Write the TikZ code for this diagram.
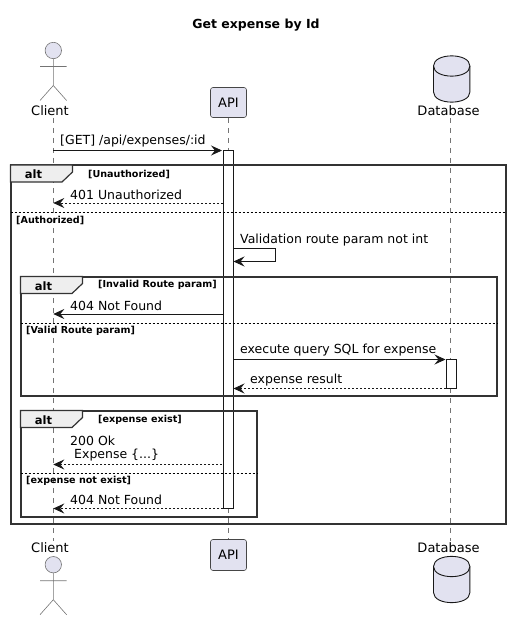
\documentclass[tikz,border=0pt]{standalone}
\usepackage{fontspec}
\setmainfont{DejaVu Sans}
\usepackage{xcolor}
\usetikzlibrary{arrows.meta}

\definecolor{partfill}{HTML}{E2E2F0}
\definecolor{partline}{HTML}{181818}
\definecolor{tabfill}{HTML}{EEEEEE}

\tikzset{
	partname/.style = {font = \fontsize{13}{15}\selectfont, inner sep = 0pt},
	partbox/.style = {draw = partline!80, fill = partfill, rounded corners = 2.5pt, line width = 0.6pt, minimum width = 36pt, inner sep = 0pt, font = \fontsize{13}{15}\selectfont},
	msg/.style = {font = \fontsize{12.5}{14}\selectfont, inner sep = 0pt, anchor = west, text = black},
	guard/.style = {font = \fontsize{9.6}{11}\bfseries\selectfont, inner sep = 0pt, anchor = west},
	alttag/.style = {font = \fontsize{11.5}{13}\bfseries\selectfont, inner sep = 0pt},
	lifeline/.style = {partline!60, line width = 0.6pt, dash pattern = on 5pt off 5pt},
	activation/.style = {draw = partline, fill = white, line width = 0.8pt, inner sep = 0pt, minimum width = 10pt},
	frameline/.style = {draw = black!80, line width = 2pt, inner sep = 0pt},
	divider/.style = {black, line width = 0.7pt, dash pattern = on 2pt off 2pt},
	call/.style = {partline, line width = 0.8pt, -{Stealth[length = 11pt, width = 10pt, inset = 4pt]}},
	reply/.style = {call, dash pattern = on 2pt off 2pt},
	actorfig/.pic = {
		\draw [partline!60, line width = 0.6pt, fill = partfill] (0,0) circle [radius = 8.2];
		\draw [partline!60, line width = 0.6pt] (0,8.2) -- (0,35) (-13.3,16) -- (13.3,16)
			(-13.3,50) -- (0,35) -- (13.3,50);
	},
	dbfig/.pic = {
		\draw [partline, line width = 0.9pt, fill = partfill] (-18.2,10) .. controls (-18.2,-3.5) and (18.2,-3.5) .. (18.2,10)
			-- (18.2,36) .. controls (18.2,49.5) and (-18.2,49.5) .. (-18.2,36) -- cycle;
		\draw [partline, line width = 0.9pt] (-18.2,10) .. controls (-18.2,23.5) and (18.2,23.5) .. (18.2,10);
	},
	alttab/.pic = {
		\draw [black!80, line width = 1.2pt, fill = tabfill] (0,0) -- (62,0) -- (62,7) -- (51.5,17) -- (0,17) -- cycle;
		\node [alttag] at (23,9.5) {alt};
	},
}

\begin{document}
\begin{tikzpicture}[x = 1pt, y = -1pt]
	\useasboundingbox (0,0) rectangle (511,620);

	\node [font = \fontsize{12.5}{14}\bfseries\selectfont, inner sep = 0pt] (title) at (256,25) {Get expense by Id};

	% lifelines
	\coordinate (clientTop) at (53.3,118);
	\coordinate (clientBot) at (53.3,541);
	\coordinate (apiTop) at (228,118);
	\coordinate (apiBot) at (228,540);
	\coordinate (dbTop) at (450.3,118);
	\coordinate (dbBot) at (450.3,541);

	\draw [lifeline] (clientTop) -- (clientBot);
	\draw [lifeline] (apiTop) -- (apiBot);
	\draw [lifeline] (dbTop) -- (dbBot);

	% participants, top and bottom
	\pic at (53.3,50.5) {actorfig};
	\pic at (53.3,564.7) {actorfig};
	\pic at (451.7,56) {dbfig};
	\pic at (451.7,556.5) {dbfig};

	\node [partname] (clientName) at (50,110.5) {Client};
	\node [partname] (clientNameBot) at (50,548) {Client};
	\node [partname] (dbName) at (448.5,110.5) {Database};
	\node [partname] (dbNameBot) at (448.5,548) {Database};
	\node [partbox, minimum height = 30pt] (api) at (228.5,102.5) {API};
	\node [partbox, minimum height = 31pt] (apiLow) at (228.5,555) {API};

	% activations
	\node [activation, minimum height = 358pt] (apiBar) at (228.5,329.5) {};
	\node [activation, minimum height = 29pt] (dbBar) at (451.5,374) {};

	% frames
	\node [frameline, minimum width = 495.5pt, minimum height = 358.5pt] (outerAlt) at (258.25,344.25) {};
	\node [frameline, minimum width = 476.5pt, minimum height = 119.5pt] (routeAlt) at (258.75,336.25) {};
	\node [frameline, minimum width = 236.5pt, minimum height = 106pt] (existAlt) at (138.75,463.5) {};

	\pic at (10.5,165) {alttab};
	\pic at (20.5,276.5) {alttab};
	\pic at (20.5,410.5) {alttab};

	\coordinate (outerL) at (10.5,212);
	\coordinate (outerR) at (506,212);
	\coordinate (routeL) at (20.5,323);
	\coordinate (routeR) at (497,323);
	\coordinate (existL) at (20.5,473);
	\coordinate (existR) at (257,473);
	\draw [divider] (outerL) -- (outerR);
	\draw [divider] (routeL) -- (routeR);
	\draw [divider] (existL) -- (existR);

	\node [guard] (g1) at (88,174) {[Unauthorized]};
	\node [guard] (g2) at (16,220.5) {[Authorized]};
	\node [guard] (g3) at (98,285) {[Invalid Route param]};
	\node [guard] (g4) at (26,330.5) {[Valid Route param]};
	\node [guard] (g5) at (98,419.5) {[expense exist]};
	\node [guard] (g6) at (26,480.5) {[expense not exist]};

	% messages
	\coordinate (clientA) at (53.3,150.5);
	\coordinate (clientB) at (53.3,203);
	\coordinate (clientC) at (53.3,314);
	\coordinate (clientD) at (53.3,464.5);
	\coordinate (clientE) at (53.3,508.5);
	\coordinate (apiA) at (222,150.5);
	\coordinate (apiB) at (222.5,203);
	\coordinate (apiC) at (223,314);
	\coordinate (apiD) at (222,464.5);
	\coordinate (apiE) at (223,508.5);
	\coordinate (apiF) at (233.5,248.5);
	\coordinate (apiG) at (233.5,261.5);
	\coordinate (apiH) at (233.5,359.5);
	\coordinate (apiI) at (233.5,388.5);
	\coordinate (dbA) at (445.5,359.5);
	\coordinate (dbB) at (445.5,388.5);

	\draw [call] (clientA) -- (apiA);
	\draw [reply] (apiB) -- (clientB);
	\draw [call] (apiF) -- (275,248.5) -- (275,261.5) -- (apiG);
	\draw [call] (apiC) -- (clientC);
	\draw [call] (apiH) -- (dbA);
	\draw [reply] (dbB) -- (apiI);
	\draw [reply] (apiD) -- (clientD);
	\draw [reply] (apiE) -- (clientE);

	\node [msg] (m1) at (60,141.5) {[GET] /api/expenses/:id};
	\node [msg] (m2) at (70,194.5) {401 Unauthorized};
	\node [msg] (m3) at (240,240) {Validation route param not int};
	\node [msg] (m4) at (70,305.5) {404 Not Found};
	\node [msg] (m5) at (240,350.5) {execute query SQL for expense};
	\node [msg] (m6) at (250,380) {expense result};
	\node [msg] (m7) at (70,440.5) {200 Ok};
	\node [msg] (m8) at (74,455.5) {Expense \{...\}};
	\node [msg] (m9) at (70,500) {404 Not Found};
\end{tikzpicture}
\end{document}
